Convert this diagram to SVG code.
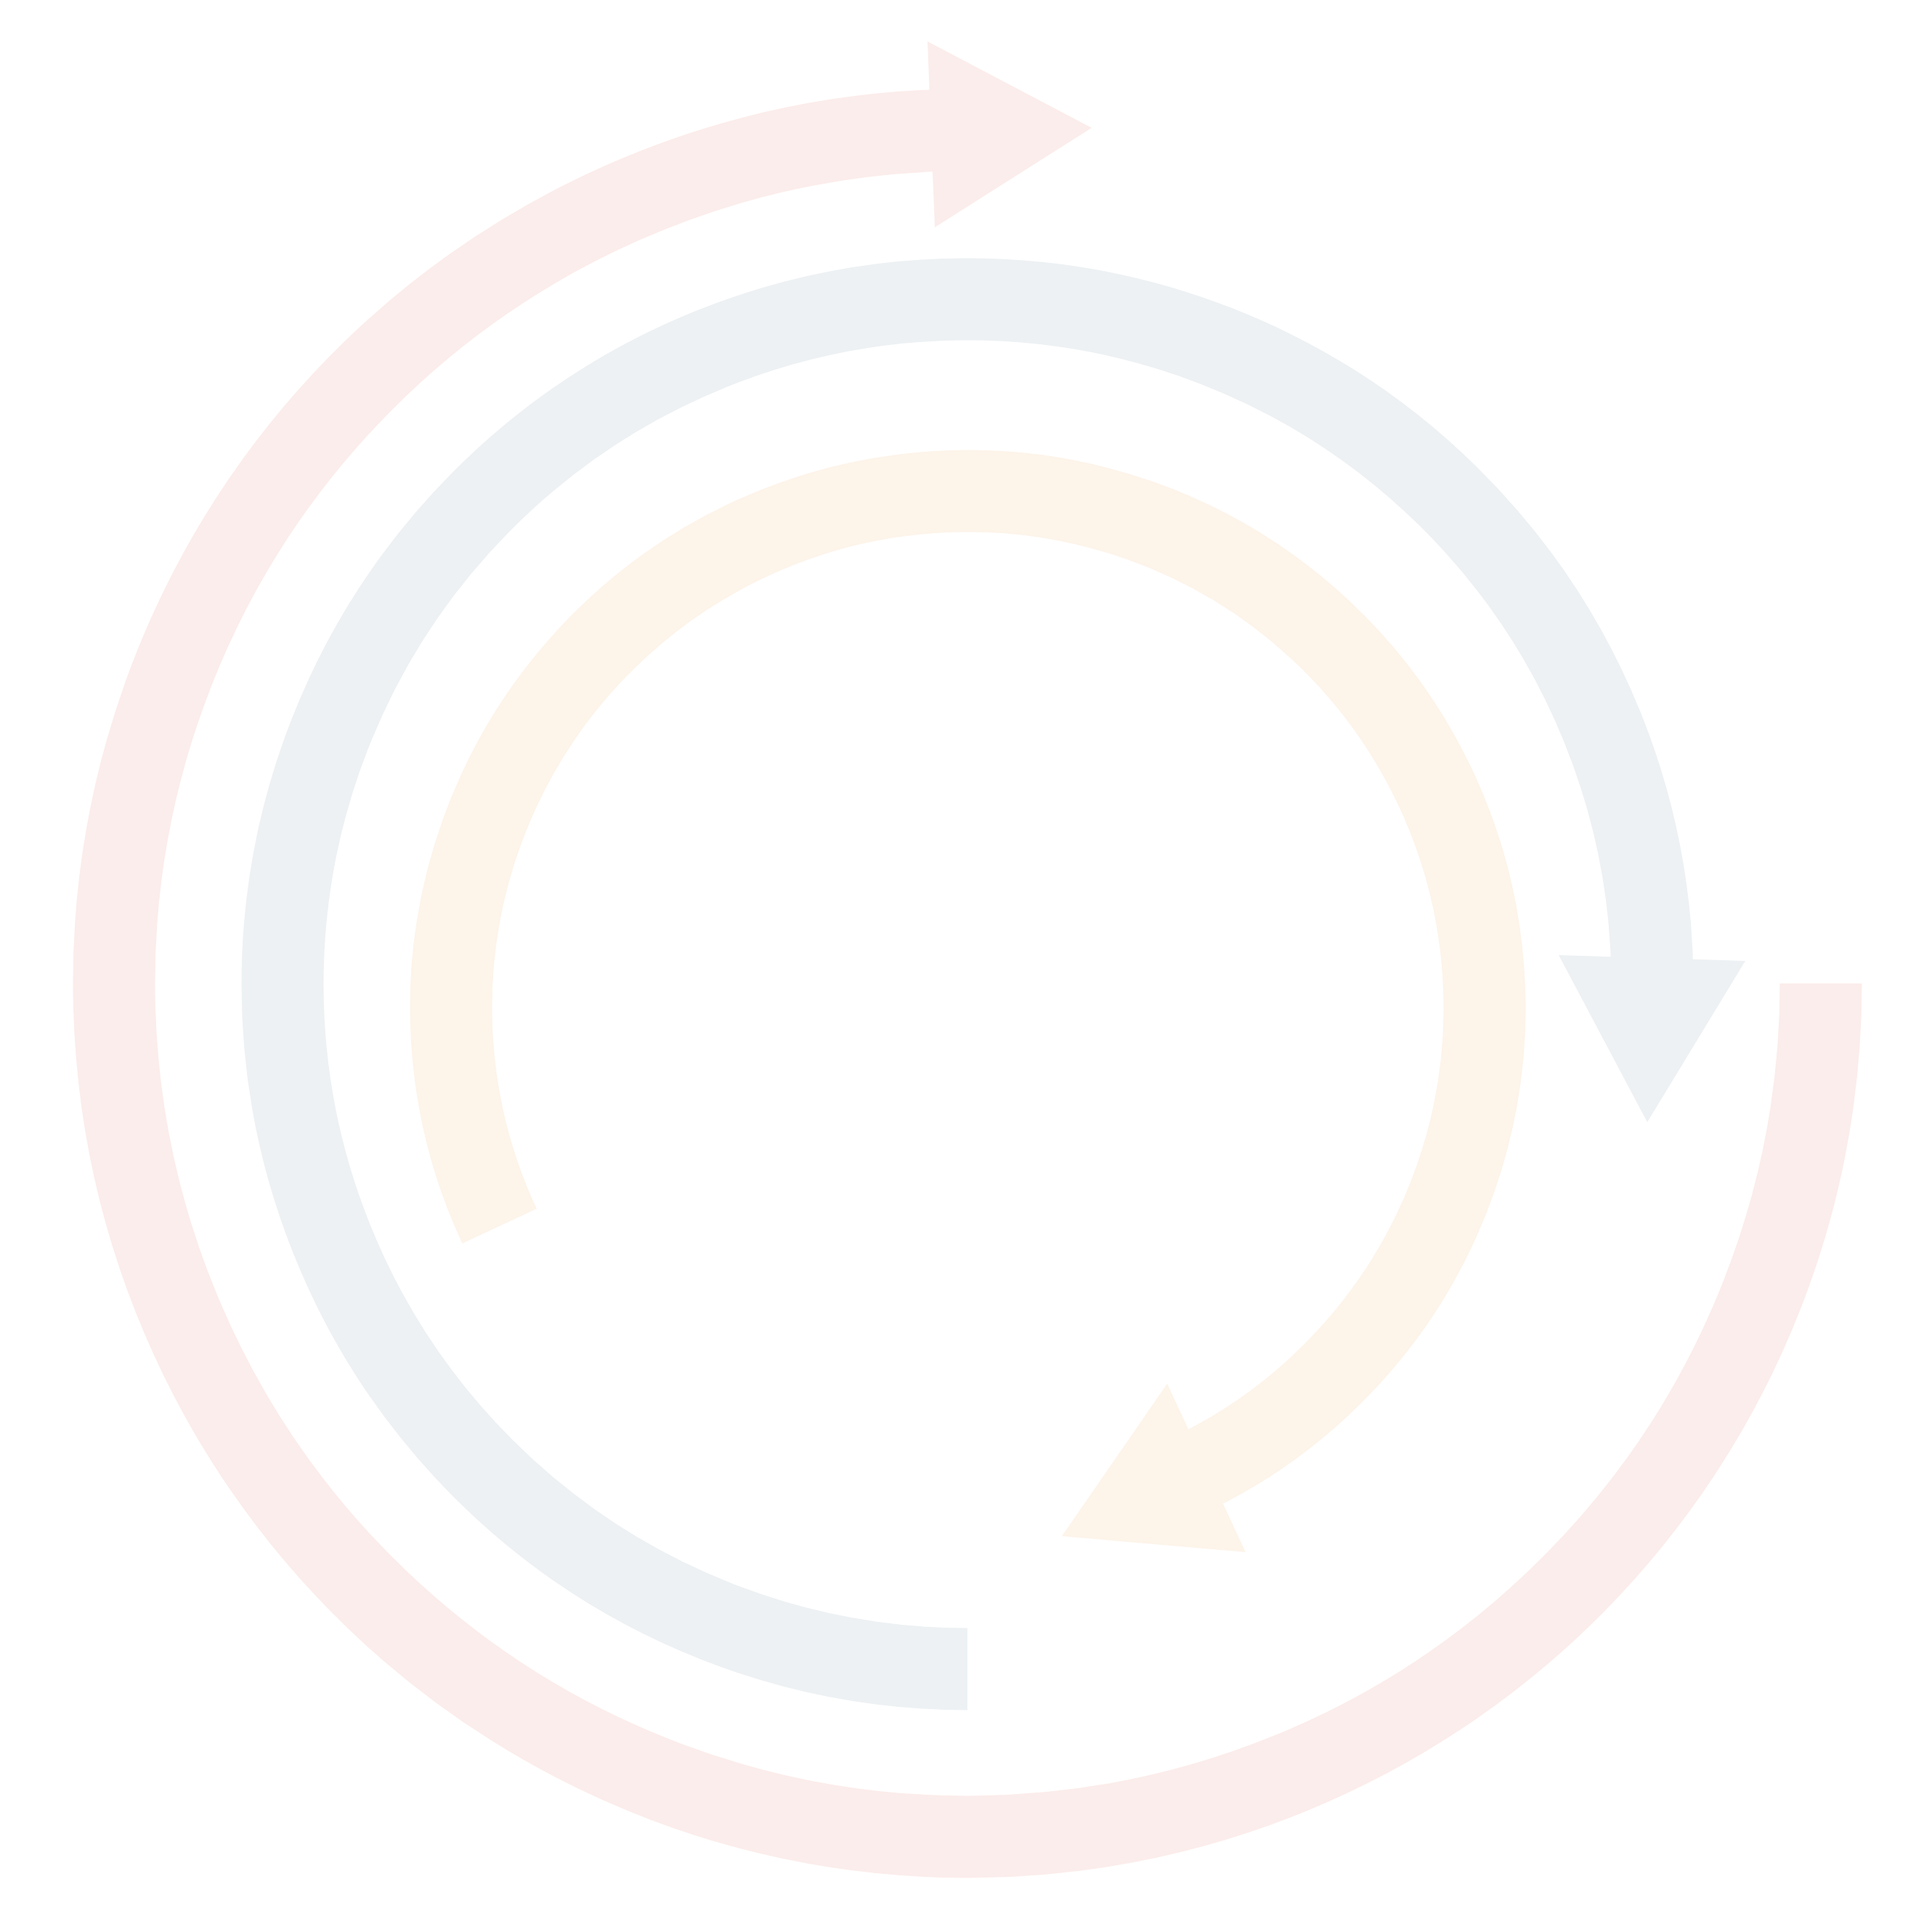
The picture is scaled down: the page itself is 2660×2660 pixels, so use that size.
<svg xmlns="http://www.w3.org/2000/svg" width="2660" height="2660" viewBox="0 0 2660 2660">
<style>
.ring{fill:none;stroke-width:113;stroke-linecap:butt}
.pink{stroke:#fbedeb}.pinkf{fill:#fbedeb}
.gray{stroke:#edf1f3}.grayf{fill:#edf1f3}
.orange{stroke:#fdf4ea}.orangef{fill:#fdf4ea}
</style>
<rect width="2660" height="2660" fill="#ffffff"/>
<g id="outer-arrow">
<path class="ring pink" d="M2507,1354 A1175,1175 0 1 1 1283,179.9"/>
<polygon class="pinkf" points="1277,57 1503,176 1287,313"/>
</g>
<g id="middle-arrow">
<path class="ring gray" d="M1332,2298 A943,943 0 1 1 2274.96,1346.8"/>
<polygon class="grayf" points="2146,1315 2403,1323 2268,1545"/>
</g>
<g id="inner-arrow">
<path class="ring orange" d="M687.7,1688.2 A711.5,711.5 0 1 1 1644.4,2027"/>
<polygon class="orangef" points="1607,1905 1715,2137 1462,2115"/>
</g>
</svg>
